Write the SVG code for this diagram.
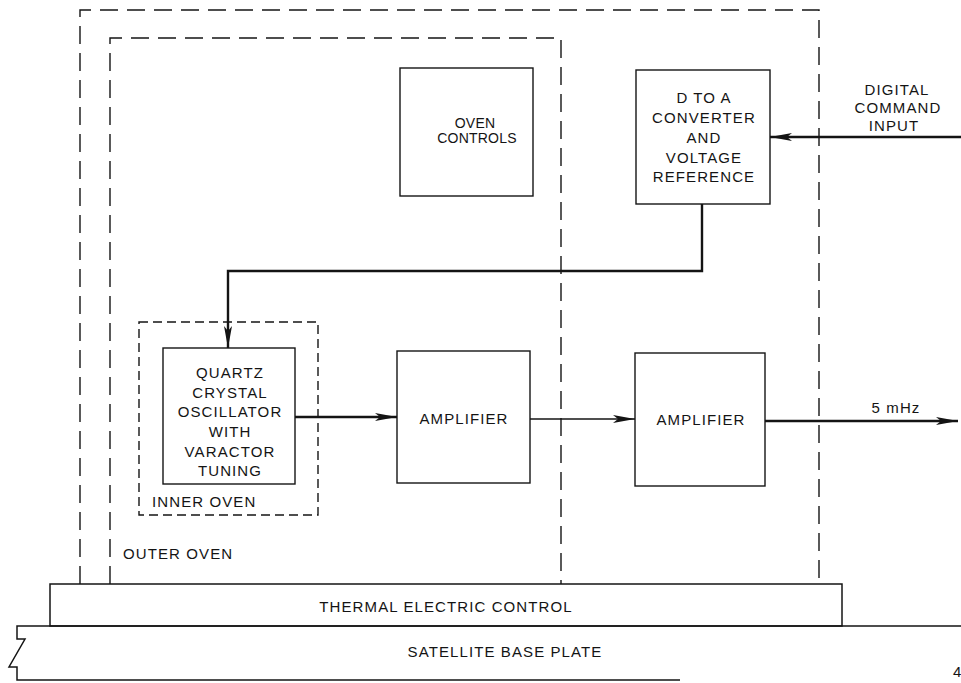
<svg xmlns="http://www.w3.org/2000/svg" width="961" height="683" viewBox="0 0 961 683">
<style>
  .bg { fill: #ffffff; }
  .box { fill: none; stroke: #141414; stroke-width: 1.4; }
  .dash { fill: none; stroke: #141414; stroke-width: 1.4; stroke-dasharray: 18 9; }
  .dash2 { fill: none; stroke: #141414; stroke-width: 1.4; stroke-dasharray: 9 5; }
  .plate { fill: none; stroke: #141414; stroke-width: 1.5; }
  .thick { fill: none; stroke: #141414; stroke-width: 2.4; }
  .thin { fill: none; stroke: #141414; stroke-width: 1.3; }
  text { font-family: "Liberation Sans", Arial, sans-serif; fill: #141414; }
  .t { font-size: 15px; letter-spacing: 1.1px; text-anchor: middle; }
  .s { font-size: 14px; letter-spacing: 0.2px; text-anchor: middle; }
  .l { font-size: 15px; letter-spacing: 1.1px; }
</style>
<defs>
  <marker id="arr" viewBox="0 0 22 8" refX="22" refY="4" markerWidth="22" markerHeight="8" markerUnits="userSpaceOnUse" orient="auto">
    <path d="M0,0 L22,4 L0,8 L5,4 Z" fill="#141414"/>
  </marker>
</defs>
<rect class="bg" x="0" y="0" width="961" height="683"/>

<g id="outer-oven">
  <path class="dash" d="M80,584 V10 H819 V584"/>
</g>
<g id="oven-enclosure">
  <path class="dash" d="M110,584 V38 H561 V584"/>
  <text class="l" x="123" y="559">OUTER OVEN</text>
</g>
<g id="inner-oven">
  <rect class="dash2" x="139" y="322" width="179" height="193"/>
  <text class="l" x="152" y="507">INNER OVEN</text>
</g>

<g id="oven-controls">
  <rect class="box" x="400" y="68" width="133" height="128"/>
  <text class="s" x="475" y="128">OVEN</text>
  <text class="s" x="477" y="143">CONTROLS</text>
</g>

<g id="d-to-a">
  <rect class="box" x="636" y="70" width="134" height="134"/>
  <text class="t" x="704" y="103">D TO A</text>
  <text class="t" x="704" y="123">CONVERTER</text>
  <text class="t" x="704" y="143">AND</text>
  <text class="t" x="704" y="163">VOLTAGE</text>
  <text class="t" x="704" y="182">REFERENCE</text>
</g>

<g id="digital-command-label">
  <text class="t" x="897" y="95">DIGITAL</text>
  <text class="t" x="898" y="113">COMMAND</text>
  <text class="t" x="894" y="131">INPUT</text>
</g>

<g id="oscillator">
  <rect class="box" x="163" y="348" width="132" height="136"/>
  <text class="t" x="230" y="378">QUARTZ</text>
  <text class="t" x="230" y="398">CRYSTAL</text>
  <text class="t" x="230" y="417">OSCILLATOR</text>
  <text class="t" x="230" y="437">WITH</text>
  <text class="t" x="230" y="457">VARACTOR</text>
  <text class="t" x="230" y="476">TUNING</text>
</g>

<g id="amplifier-1">
  <rect class="box" x="397" y="351" width="133" height="132"/>
  <text class="t" x="464" y="424">AMPLIFIER</text>
</g>

<g id="amplifier-2">
  <rect class="box" x="635" y="353" width="130" height="133"/>
  <text class="t" x="701" y="425">AMPLIFIER</text>
</g>

<g id="output-label">
  <text class="t" x="896" y="413">5 mHz</text>
</g>

<g id="thermal-electric-control">
  <rect class="plate" x="50" y="584" width="792" height="42"/>
  <text class="t" x="446" y="612">THERMAL ELECTRIC CONTROL</text>
</g>

<g id="satellite-base-plate">
  <path class="plate" d="M961,626 H17 V639 H25 L9,667 H17 V680 H680"/>
  <text class="t" x="505" y="657">SATELLITE BASE PLATE</text>
  <text style="font-size:15px" x="953" y="677">4</text>
</g>

<g id="connectors">
  <path class="thick" d="M961,137 H770" marker-end="url(#arr)"/>
  <path class="thick" d="M702,204 V271 H228 V348" marker-end="url(#arr)"/>
  <path class="thick" d="M295,417 H397" marker-end="url(#arr)"/>
  <path class="thin" d="M530,419 H635" marker-end="url(#arr)"/>
  <path class="thick" d="M765,421 H958" marker-end="url(#arr)"/>
</g>
</svg>
